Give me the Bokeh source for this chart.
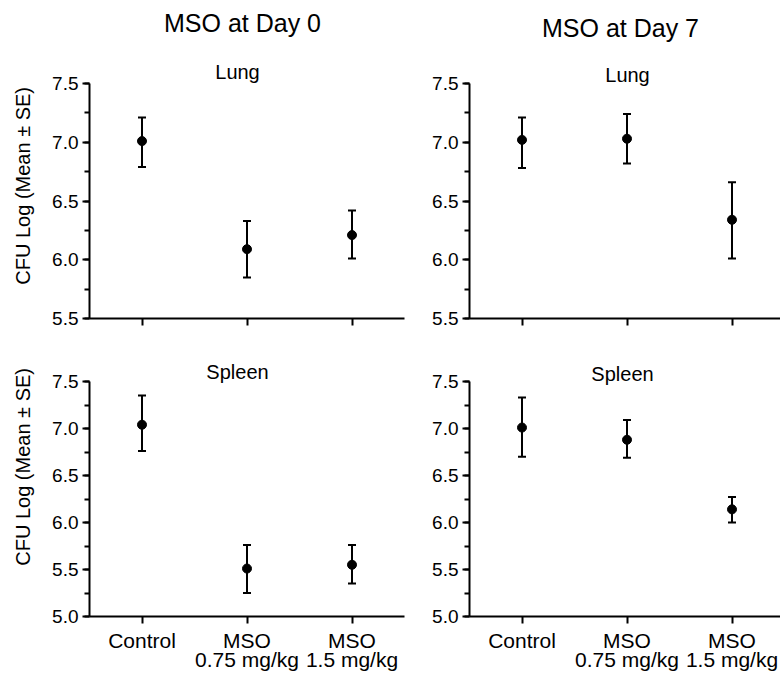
import math
from bokeh.plotting import figure
from bokeh.models import (ColumnDataSource, Whisker, TeeHead, FixedTicker, SingleIntervalTicker,
                          Label, Range1d, PrintfTickFormatter)
from bokeh.layouts import column, row
from bokeh.embed import file_html
from bokeh.resources import INLINE

# ---- data ----
groups = ["Control", "MSO\n0.75 mg/kg", "MSO\n1.5 mg/kg"]

lung_d0_mean = [7.01, 6.09, 6.21]
lung_d0_upper = [7.21, 6.33, 6.42]
lung_d0_lower = [6.79, 5.85, 6.01]

lung_d7_mean = [7.02, 7.03, 6.34]
lung_d7_upper = [7.21, 7.24, 6.66]
lung_d7_lower = [6.78, 6.82, 6.01]

spleen_d0_mean = [7.04, 5.51, 5.55]
spleen_d0_upper = [7.35, 5.76, 5.76]
spleen_d0_lower = [6.76, 5.25, 5.35]

spleen_d7_mean = [7.01, 6.88, 6.14]
spleen_d7_upper = [7.33, 7.09, 6.27]
spleen_d7_lower = [6.70, 6.69, 6.00]

y_top = 7.5
y_label = "CFU Log (Mean \u00b1 SE)"
FONT = "Liberation Sans"
PX_PER_GROUP = 105
LAB_W = 40


def label_fig(height, cy):
    p = figure(width=LAB_W, height=height, output_backend="svg", toolbar_location=None,
               x_range=Range1d(0, LAB_W), y_range=Range1d(0, height),
               min_border_left=0, min_border_right=0, min_border_top=0, min_border_bottom=0)
    p.axis.visible = False
    p.grid.visible = False
    p.outline_line_color = None
    p.add_layout(Label(x=22, y=height - cy, text=y_label, angle=math.pi / 2,
                       text_align="center", text_baseline="middle", text_font=FONT,
                       text_font_size="20px", text_color="black"))
    return p


def panel(mean, upper, lower, y0, width, height, bl, br, bb, axis_px,
          subtitle, sub_cx, sub_dy, title=None, title_cx=None, title_dy=None, bottom=False):
    xs = [i + 1 for i in range(len(groups))]
    src = ColumnDataSource(dict(x=xs, mean=mean, upper=upper, lower=lower))
    frame_w = width - bl - br
    frame_h = height - bb
    ppu = axis_px / (y_top - y0)
    x1 = 0.5 + frame_w / PX_PER_GROUP
    y1 = y0 + frame_h / ppu
    p = figure(width=width, height=height, output_backend="svg", toolbar_location=None,
               x_range=Range1d(0.5, x1), y_range=Range1d(y0, y1),
               min_border_left=bl, min_border_right=br, min_border_top=0, min_border_bottom=bb)
    p.outline_line_color = None
    p.grid.visible = False
    p.background_fill_color = "white"
    p.border_fill_color = "white"

    w = Whisker(base="x", upper="upper", lower="lower", source=src,
                line_width=2, line_color="black",
                upper_head=TeeHead(size=8, line_width=2, line_color="black"),
                lower_head=TeeHead(size=8, line_width=2, line_color="black"))
    p.add_layout(w)
    p.scatter("x", "mean", source=src, size=9, color="black")

    # y axis
    ya = p.yaxis[0]
    ya.bounds = (y0, y_top)
    ya.ticker = SingleIntervalTicker(interval=0.5, num_minor_ticks=2)
    ya.formatter = PrintfTickFormatter(format="%.1f")
    ya.axis_line_width = 2
    ya.major_tick_line_width = 2
    ya.minor_tick_line_width = 2
    ya.major_tick_out = 7
    ya.major_tick_in = 0
    ya.minor_tick_out = 5
    ya.minor_tick_in = 0
    ya.major_label_standoff = 4
    ya.major_label_text_font = FONT
    ya.major_label_text_font_size = "19px"
    ya.major_label_text_color = "black"

    # x axis
    xa = p.xaxis[0]
    xa.ticker = FixedTicker(ticks=xs)
    xa.axis_line_width = 2
    xa.major_tick_line_width = 2
    xa.major_tick_out = 7
    xa.major_tick_in = 0
    xa.minor_tick_line_color = None
    xa.major_label_text_font = FONT
    xa.major_label_text_color = "black"
    if bottom:
        xa.major_label_overrides = {x: g for x, g in zip(xs, groups)}
        xa.major_label_text_font_size = "21px"
        xa.major_label_text_line_height = 0.85
        xa.major_label_standoff = 5
    else:
        xa.major_label_overrides = {x: "" for x in xs}
        xa.major_label_text_font_size = "2px"
        xa.major_label_standoff = 0

    def xd(px):
        return 0.5 + (px - bl) / PX_PER_GROUP

    p.add_layout(Label(x=xd(sub_cx), y=y_top + sub_dy / ppu, text=subtitle, text_align="center",
                       text_baseline="alphabetic", text_font=FONT, text_font_size="20px",
                       text_color="black"))
    if title:
        p.add_layout(Label(x=xd(title_cx), y=y_top + title_dy / ppu, text=title, text_align="center",
                           text_baseline="alphabetic", text_font=FONT, text_font_size="25px",
                           text_color="black"))
    return p


# columns: label 0..40, left panel 40..418 (frame 89..404), right panel 418..780 (frame 469..780)
L0 = LAB_W
R0 = 418
p1 = panel(lung_d0_mean, lung_d0_upper, lung_d0_lower, 5.5, R0 - L0, 338, 89 - L0, 14, 20, 235,
           "Lung", 237 - L0, 12, "MSO at Day 0", 242 - L0, 61)
p2 = panel(lung_d7_mean, lung_d7_upper, lung_d7_lower, 5.5, 362, 338, 51, 0, 20, 235,
           "Lung", 627 - R0, 9, "MSO at Day 7", 620 - R0, 56)
p3 = panel(spleen_d0_mean, spleen_d0_upper, spleen_d0_lower, 5.0, R0 - L0, 340, 89 - L0, 14, 62, 235,
           "Spleen", 237 - L0, 10, bottom=True)
p4 = panel(spleen_d7_mean, spleen_d7_upper, spleen_d7_lower, 5.0, 362, 340, 51, 0, 62, 235,
           "Spleen", 622 - R0, 8, bottom=True)

lab1 = label_fig(338, 197)
lab2 = label_fig(340, 495 - 338)

layout = column(row(lab1, p1, p2, spacing=0), row(lab2, p3, p4, spacing=0), spacing=0)

open("out.html", "w").write(file_html(layout, INLINE))
